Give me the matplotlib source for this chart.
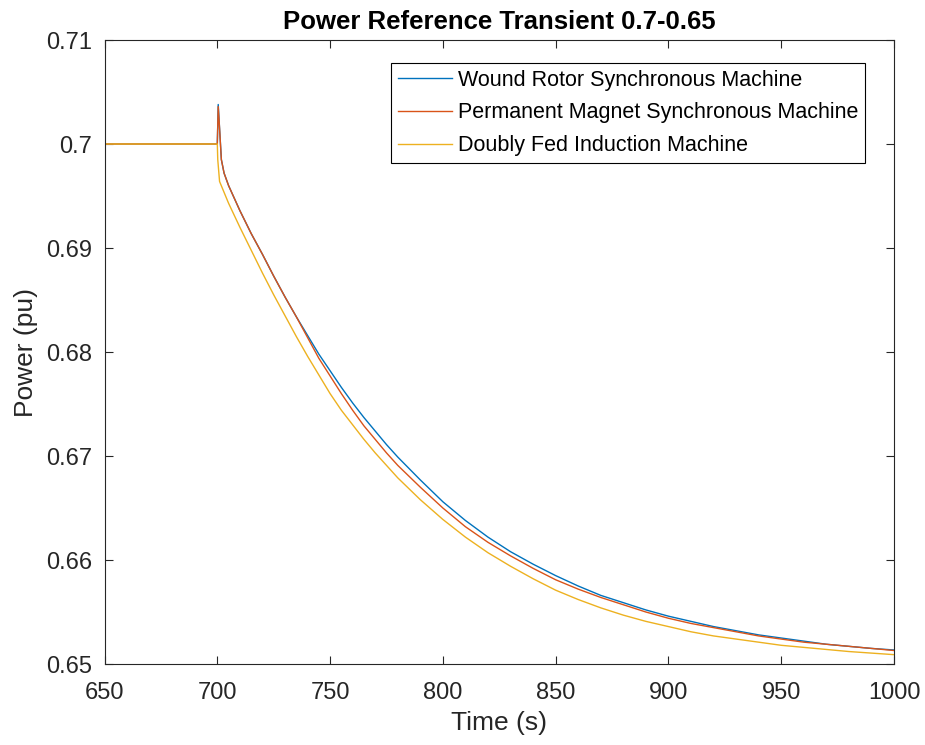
import matplotlib.pyplot as plt

plt.rcParams["font.family"] = ["Liberation Sans", "DejaVu Sans"]

# time axis (s) shared by the synchronous machines
t_sm = [650, 700, 700.4, 701.0, 701.8, 703, 705, 710, 715, 720, 725, 730, 735,
        740, 745, 750, 755, 760, 765, 770, 775, 780, 790, 800, 810, 820, 830,
        840, 850, 860, 870, 880, 890, 900, 910, 920, 930, 940, 950, 960, 970,
        980, 990, 1000]
p_wrsm = [0.7, 0.7, 0.7038, 0.7015, 0.6985, 0.6972, 0.6960, 0.6936, 0.6914,
          0.6894, 0.6873, 0.6853, 0.6834, 0.6816, 0.6798, 0.6782, 0.6766,
          0.6751, 0.6737, 0.6724, 0.6711, 0.6699, 0.6677, 0.6656, 0.6638,
          0.6622, 0.6608, 0.6596, 0.6585, 0.6575, 0.6566, 0.6559, 0.6552,
          0.6546, 0.6541, 0.6536, 0.6532, 0.6528, 0.6525, 0.6522, 0.6519,
          0.6517, 0.6515, 0.65135]
p_pmsm = [0.7, 0.7, 0.7036, 0.7015, 0.6985, 0.6972, 0.6960, 0.6936, 0.6914,
          0.6894, 0.6873, 0.6853, 0.6834, 0.6814, 0.6794, 0.6777, 0.6760,
          0.6744, 0.6729, 0.6716, 0.6703, 0.6691, 0.6670, 0.6650, 0.6632,
          0.6617, 0.6604, 0.6592, 0.6581, 0.6572, 0.6564, 0.6557, 0.6550,
          0.6544, 0.6539, 0.6535, 0.6531, 0.6527, 0.6524, 0.6521, 0.6519,
          0.6517, 0.6515, 0.6513]

# induction machine has no overshoot
t_dfim = [650, 700, 700.2, 701.0, 705, 710, 715, 720, 725, 730, 735, 740, 745,
          750, 755, 760, 765, 770, 775, 780, 790, 800, 810, 820, 830, 840, 850,
          860, 870, 880, 890, 900, 910, 920, 930, 940, 950, 960, 970, 980, 990,
          1000]
p_dfim = [0.7, 0.7, 0.6985, 0.6964, 0.6943, 0.6920, 0.6898, 0.6876, 0.6855,
          0.6835, 0.6815, 0.6796, 0.6778, 0.6760, 0.6744, 0.6730, 0.6716,
          0.6703, 0.6691, 0.6679, 0.6658, 0.6639, 0.6622, 0.6607, 0.6594,
          0.6582, 0.6571, 0.6562, 0.6554, 0.6547, 0.6541, 0.6536, 0.6531,
          0.6527, 0.6524, 0.6521, 0.6518, 0.6516, 0.6514, 0.6512, 0.65105,
          0.6509]

labels = ["Wound Rotor Synchronous Machine",
          "Permanent Magnet Synchronous Machine",
          "Doubly Fed Induction Machine"]
colors = ["#0072BD", "#D95319", "#EDB120"]

fig = plt.figure(figsize=(9.25, 7.45), dpi=100)
ax = fig.add_axes([0.113, 0.1087, 0.8535, 0.8376])

ax.plot(t_sm, p_wrsm, color=colors[0], lw=1.0, label=labels[0])
ax.plot(t_sm, p_pmsm, color=colors[1], lw=1.0, label=labels[1])
ax.plot(t_dfim, p_dfim, color=colors[2], lw=1.0, label=labels[2])

ax.set_xlim(650, 1000)
ax.set_ylim(0.65, 0.71)
ax.set_xticks(range(650, 1001, 50))
ax.set_yticks([0.65, 0.66, 0.67, 0.68, 0.69, 0.70, 0.71])
ax.set_yticklabels(["0.65", "0.66", "0.67", "0.68", "0.69", "0.7", "0.71"])

ax.tick_params(direction="in", top=True, right=True, labelsize=17,
               color="#262626", labelcolor="#262626", length=6, width=0.8)
ax.tick_params(axis="x", pad=13)
ax.tick_params(axis="y", pad=9)
for sp in ax.spines.values():
    sp.set_color("#262626")
    sp.set_linewidth(0.8)

ax.set_xlabel("Time (s)", fontsize=19, color="#262626", labelpad=5)
ax.set_ylabel("Power (pu)", fontsize=19, color="#262626", labelpad=6)
ax.set_title("Power Reference Transient 0.7-0.65", fontsize=18.5,
             fontweight="bold", pad=8)

leg = ax.legend(loc="upper right", bbox_to_anchor=(0.963, 0.963),
                fontsize=15.5, fancybox=False, framealpha=1, edgecolor="black",
                handlelength=2.5, handletextpad=0.3, borderpad=0.3,
                labelspacing=0.55, borderaxespad=0)
leg.get_frame().set_linewidth(0.8)

fig.savefig("out.png", dpi=100)
